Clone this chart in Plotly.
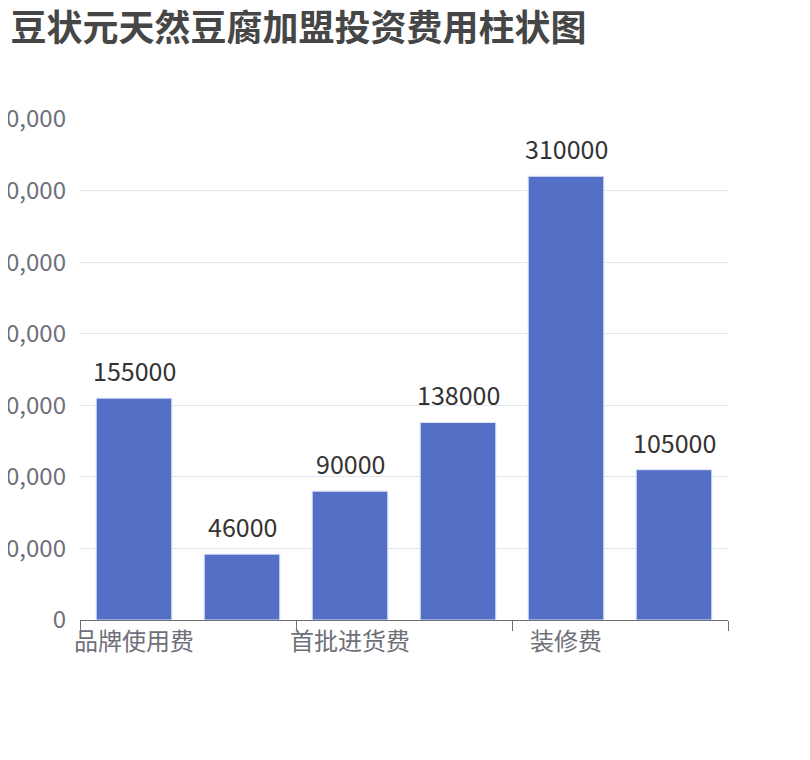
import plotly.graph_objects as go

# 数据
categories = ["品牌使用费", "保证金", "首批进货费", "设备费", "装修费", "其他费用"]
values = [155000, 46000, 90000, 138000, 310000, 105000]
y_ticks = [0, 50000, 100000, 150000, 200000, 250000, 300000, 350000]
y_tick_labels = ["0", "50,000", "100,000", "150,000", "200,000", "250,000", "300,000", "350,000"]

font_cjk = "Noto Sans CJK SC, Noto Sans, sans-serif"

fig = go.Figure()
fig.add_trace(go.Bar(
    x=categories,
    y=values,
    marker=dict(color="#5470c6", line=dict(color="#dfe5f7", width=1)),
    cliponaxis=False,
))

# 柱顶数值标签
for c, v in zip(categories, values):
    fig.add_annotation(x=c, y=v, text=str(v), showarrow=False,
                       yanchor="bottom", yshift=8,
                       font=dict(size=25, color="#333333", family=font_cjk))

fig.update_layout(
    title=dict(text="<b>豆状元天然豆腐加盟投资费用柱状图</b>", x=0.003, xanchor="left",
               y=0.99, yanchor="top",
               font=dict(size=36, color="#464646", family=font_cjk)),
    width=810, height=760,
    margin=dict(l=72, r=90, t=111, b=148),
    plot_bgcolor="white", paper_bgcolor="white",
    bargap=0.3,
    showlegend=False,
    font=dict(family=font_cjk),
)

fig.update_xaxes(
    type="category",
    tickmode="linear", tick0=0, dtick=2,
    tickson="boundaries",
    ticks="outside", ticklen=10, tickcolor="#6e7079", tickwidth=1,
    showline=True, linecolor="#6e7079", linewidth=1,
    showgrid=False, tickangle=0, automargin=False,
    tickfont=dict(size=24, color="#6e7079"),
    range=[-0.5, 5.5],
)

fig.update_yaxes(
    range=[0, 350000],
    tickvals=y_ticks, ticktext=y_tick_labels,
    showgrid=True, gridcolor="#e0e6f1", gridwidth=1,
    zeroline=False, showline=False, ticks="",
    ticklabelstandoff=13, automargin=False,
    tickfont=dict(size=24, color="#6e7079"),
)

fig.write_html("out.html")
